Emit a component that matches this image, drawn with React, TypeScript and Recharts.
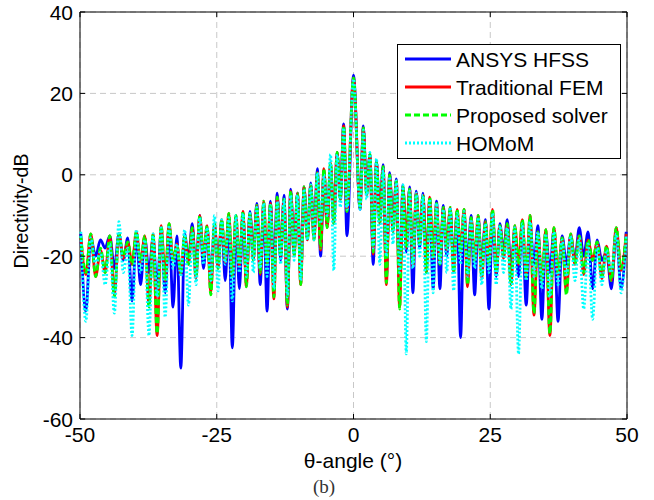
import React from 'react';
import { LineChart, Line, XAxis, YAxis, CartesianGrid, ReferenceArea } from 'recharts';

// theta samples: side-lobe peaks and nulls
const THETA = [
  -49.85, -48.93, -48.03, -47.14, -46.26, -45.4, -44.55, -43.72, -42.89, -42.08, -41.27, -40.48,
  -39.7, -38.92, -38.15, -37.39, -36.64, -35.9, -35.16, -34.43, -33.71, -32.99, -32.28, -31.57,
  -30.87, -30.17, -29.48, -28.79, -28.11, -27.43, -26.76, -26.09, -25.42, -24.76, -24.1, -23.45,
  -22.8, -22.15, -21.5, -20.86, -20.21, -19.58, -18.94, -18.31, -17.68, -17.05, -16.42, -15.8,
  -15.18, -14.56, -13.94, -13.32, -12.7, -12.09, -11.48, -10.86, -10.25, -9.65, -9.04, -8.43,
  -7.82, -7.22, -6.61, -6.01, -5.41, -4.81, -4.2, -3.6, -3.0, -2.4, -1.8, -1.2,
  0,
  1.2, 1.8, 2.4, 3.0, 3.6, 4.2, 4.81, 5.41, 6.01, 6.61, 7.22, 7.82,
  8.43, 9.04, 9.65, 10.25, 10.86, 11.48, 12.09, 12.7, 13.32, 13.94, 14.56, 15.18,
  15.8, 16.42, 17.05, 17.68, 18.31, 18.94, 19.58, 20.21, 20.86, 21.5, 22.15, 22.8,
  23.45, 24.1, 24.76, 25.42, 26.09, 26.76, 27.43, 28.11, 28.79, 29.48, 30.17, 30.87,
  31.57, 32.28, 32.99, 33.71, 34.43, 35.16, 35.9, 36.64, 37.39, 38.15, 38.92, 39.7,
  40.48, 41.27, 42.08, 42.89, 43.72, 44.55, 45.4, 46.26, 47.14, 48.03, 48.93, 49.85,
];

const HFSS = [
  -14.5, -33.5, -15.5, -20.0, -16.0, -18.0, -15.0, -23.0, -14.5, -21.0, -15.5, -31.0,
  -15.0, -27.0, -15.5, -24.0, -15.5, -28.0, -14.0, -29.0, -12.5, -32.5, -15.0, -47.5,
  -14.5, -21.0, -12.0, -24.0, -10.0, -23.0, -13.0, -27.0, -12.5, -22.0, -11.5, -26.0,
  -10.5, -42.5, -11.0, -28.0, -10.0, -26.0, -9.0, -20.0, -7.0, -27.0, -7.5, -33.5,
  -6.5, -24.0, -4.5, -21.0, -5.0, -33.0, -3.5, -19.0, -4.5, -25.0, -3.0, -16.0,
  -2.0, -15.0, 1.5, -20.0, 1.0, -12.5, 2.5, -12.0, 5.5, -6.0, 12.5, -15.0,
  24.5,
  -8.5, 12.0, -4.5, 5.0, -22.0, 3.5, -11.0, 2.5, -25.0, 0.5, -13.0, -1.0,
  -28.0, -2.5, -19.0, -3.0, -29.0, -4.0, -18.0, -4.5, -22.0, -6.0, -28.0, -6.5,
  -28.0, -7.5, -20.0, -8.5, -22.0, -9.0, -40.0, -9.5, -22.0, -10.0, -29.5, -10.5,
  -23.0, -11.0, -33.0, -10.0, -25.0, -12.0, -19.0, -11.0, -24.0, -13.5, -25.0, -12.5,
  -32.0, -12.0, -22.0, -12.5, -35.5, -14.5, -24.0, -13.5, -36.0, -15.0, -22.0, -15.0,
  -21.0, -13.0, -20.0, -14.0, -28.0, -16.0, -21.0, -19.0, -28.0, -14.0, -28.0, -14.0,
];

const FEM = [
  -15.5, -24.5, -14.5, -25.0, -18.5, -24.0, -15.0, -29.5, -14.5, -20.5, -16.5, -22.0,
  -14.0, -21.5, -15.0, -32.0, -14.5, -39.5, -12.5, -26.0, -12.0, -21.0, -17.0, -24.5,
  -15.0, -22.0, -13.0, -25.5, -10.0, -20.0, -12.5, -29.0, -12.0, -23.0, -11.0, -21.5,
  -9.5, -25.0, -10.0, -22.5, -9.0, -27.5, -9.5, -21.0, -7.5, -24.5, -6.5, -22.0,
  -7.0, -30.5, -5.5, -20.0, -6.0, -32.5, -4.0, -20.0, -4.5, -27.0, -3.0, -16.0,
  -2.5, -16.0, 0.5, -18.5, 1.5, -13.0, 3.0, -12.0, 5.5, -6.0, 12.0, -9.0,
  23.8,
  -8.0, 11.5, -5.0, 5.0, -19.5, 3.0, -12.0, 2.0, -27.0, 0.0, -14.0, -1.5,
  -32.5, -3.0, -18.0, -3.5, -22.5, -4.5, -17.0, -5.0, -24.0, -5.5, -20.5, -7.0,
  -22.0, -8.0, -18.5, -8.0, -24.0, -8.5, -19.0, -8.5, -27.5, -10.5, -21.0, -10.0,
  -25.5, -11.5, -22.0, -8.5, -24.0, -12.5, -20.5, -12.0, -27.0, -12.5, -22.0, -11.0,
  -25.0, -10.0, -34.5, -14.0, -26.0, -13.5, -39.5, -13.0, -24.5, -15.5, -29.0, -14.5,
  -22.0, -15.0, -24.5, -16.0, -21.0, -16.5, -25.5, -17.5, -26.0, -13.0, -23.5, -14.5,
];

const PROPOSED = [
  -15.0, -24.0, -14.5, -25.0, -18.0, -24.0, -15.0, -30.0, -14.5, -20.0, -16.5, -22.0,
  -14.0, -21.0, -15.0, -32.5, -14.5, -39.0, -12.5, -26.0, -12.0, -21.0, -17.5, -24.0,
  -15.0, -22.0, -13.0, -25.0, -10.0, -20.0, -12.5, -29.5, -12.0, -23.0, -11.0, -21.0,
  -9.5, -25.0, -10.0, -22.0, -9.0, -27.5, -9.5, -21.0, -7.5, -24.0, -6.5, -22.0,
  -7.0, -30.0, -5.5, -20.0, -6.0, -32.0, -4.0, -20.0, -4.5, -27.0, -3.0, -16.0,
  -2.5, -16.0, 0.5, -18.0, 1.5, -13.0, 3.0, -12.0, 5.5, -6.0, 12.0, -9.0,
  23.8,
  -8.0, 11.5, -5.0, 5.0, -19.0, 3.0, -12.0, 2.0, -26.5, 0.0, -14.0, -1.5,
  -33.0, -3.0, -18.0, -3.5, -22.0, -4.5, -17.0, -5.0, -24.0, -5.5, -20.0, -7.0,
  -22.0, -8.0, -18.0, -8.0, -24.0, -8.5, -19.0, -8.5, -27.0, -10.5, -21.0, -10.0,
  -25.0, -11.5, -22.0, -8.5, -24.0, -12.5, -20.0, -12.0, -27.0, -12.5, -22.0, -11.0,
  -25.0, -10.0, -34.0, -14.0, -26.0, -13.5, -39.0, -13.0, -24.0, -15.5, -29.5, -14.5,
  -22.0, -15.0, -24.0, -16.0, -21.0, -16.5, -25.0, -17.5, -26.0, -13.0, -23.0, -14.5,
];

const HOMOM = [
  -14.0, -36.0, -15.5, -22.0, -19.0, -27.0, -17.0, -34.0, -11.5, -24.0, -18.0, -39.5,
  -13.5, -24.0, -16.0, -39.5, -14.5, -30.0, -13.0, -35.0, -12.5, -23.0, -17.0, -25.0,
  -13.5, -32.0, -14.0, -27.0, -10.5, -22.0, -13.0, -26.0, -10.0, -28.5, -11.0, -22.0,
  -10.5, -31.0, -10.0, -24.0, -9.5, -25.0, -9.5, -24.0, -8.0, -23.0, -7.0, -25.0,
  -7.5, -28.0, -6.5, -22.0, -6.0, -30.0, -5.0, -21.0, -5.0, -26.0, -3.5, -16.0,
  -2.5, -16.0, 0.5, -12.0, 0.0, -10.0, 5.0, -23.5, 5.0, -8.0, 11.5, -8.5,
  23.5,
  -8.5, 11.0, -6.0, 5.5, -18.0, 4.0, -22.0, 1.5, -20.0, -0.5, -17.0, -1.5,
  -24.0, -2.5, -44.0, -4.0, -23.0, -4.5, -20.0, -5.0, -41.0, -6.0, -29.0, -7.0,
  -22.0, -8.5, -24.0, -8.0, -28.5, -9.5, -22.0, -9.0, -25.0, -11.0, -23.0, -10.5,
  -27.0, -12.0, -24.0, -9.5, -27.0, -12.5, -24.0, -13.0, -33.0, -13.0, -44.0, -12.0,
  -26.0, -11.5, -25.0, -14.0, -28.0, -14.5, -30.0, -14.0, -27.0, -16.0, -25.0, -15.0,
  -26.0, -15.5, -33.0, -17.0, -35.5, -17.5, -27.0, -18.5, -24.0, -14.5, -29.0, -15.0,
];

const X_TICKS = [-50, -25, 0, 25, 50];
const Y_TICKS = [-60, -40, -20, 0, 20, 40];

const SERIES = [
  { key: 'hfss', name: 'ANSYS HFSS', color: '#0000ff', dash: undefined },
  { key: 'fem', name: 'Traditional FEM', color: '#ff0000', dash: undefined },
  { key: 'proposed', name: 'Proposed solver', color: '#00ff00', dash: '6 3' },
  { key: 'homom', name: 'HOMoM', color: '#00ffff', dash: '2 2' },
];

const data = THETA.map((theta, i) => ({
  theta,
  hfss: HFSS[i],
  fem: FEM[i],
  proposed: PROPOSED[i],
  homom: HOMOM[i],
}));

const W = 654;
const H = 500;
const PLOT = { left: 80, top: 12, right: 627, bottom: 419 };
const FONT = '"Liberation Sans", Arial, Helvetica, sans-serif';

// matlab style: ticks point inward on all four sides
const XTick = (props: any) => {
  const { x, payload } = props;
  return (
    <g>
      <line x1={x} x2={x} y1={PLOT.bottom} y2={PLOT.bottom - 5} stroke="#000" />
      <line x1={x} x2={x} y1={PLOT.top} y2={PLOT.top + 5} stroke="#000" />
      <text x={x} y={PLOT.bottom + 23} textAnchor="middle" fontSize={21} fontFamily={FONT} fill="#000">
        {payload.value}
      </text>
    </g>
  );
};

const YTick = (props: any) => {
  const { y, payload } = props;
  return (
    <g>
      <line x1={PLOT.left} x2={PLOT.left + 5} y1={y} y2={y} stroke="#000" />
      <line x1={PLOT.right} x2={PLOT.right - 5} y1={y} y2={y} stroke="#000" />
      <text x={PLOT.left - 7} y={y + 7.5} textAnchor="end" fontSize={21} fontFamily={FONT} fill="#000">
        {payload.value}
      </text>
    </g>
  );
};

export default function App() {
  return (
    <div style={{ position: 'absolute', left: 0, top: 0, width: W, height: H, background: '#fff' }}>
      <LineChart
        width={W}
        height={H}
        data={data}
        margin={{ top: PLOT.top, right: W - PLOT.right, bottom: 51, left: 0 }}
      >
        <CartesianGrid stroke="#c8c8c8" strokeDasharray="6 4" />
        <XAxis
          dataKey="theta"
          type="number"
          domain={[-50, 50]}
          ticks={X_TICKS}
          interval={0}
          height={30}
          axisLine={false}
          tickLine={false}
          tick={XTick}
        />
        <YAxis
          type="number"
          domain={[-60, 40]}
          ticks={Y_TICKS}
          interval={0}
          width={80}
          axisLine={false}
          tickLine={false}
          tick={YTick}
        />
        {SERIES.map((s) => (
          <Line
            key={s.key}
            dataKey={s.key}
            name={s.name}
            type="monotone"
            stroke={s.color}
            strokeWidth={2.8}
            strokeDasharray={s.dash}
            dot={false}
            activeDot={false}
            isAnimationActive={false}
          />
        ))}
        <ReferenceArea x1={-50} x2={50} y1={-60} y2={40} fill="none" stroke="#000" strokeWidth={1} />
      </LineChart>

      <svg
        width={W}
        height={H}
        style={{ position: 'absolute', left: 0, top: 0, pointerEvents: 'none' }}
      >
        {/* legend */}
        <rect x={397.5} y={44.5} width={223} height={114} fill="#fff" stroke="#000" strokeWidth={1} />
        {SERIES.map((s, i) => {
          const cy = 59 + i * 28;
          return (
            <g key={s.key}>
              <line x1={405} x2={451} y1={cy} y2={cy} stroke={s.color} strokeWidth={3} strokeDasharray={s.dash} />
              <text x={456} y={cy + 7.5} fontSize={21} fontFamily={FONT} fill="#000">
                {s.name}
              </text>
            </g>
          );
        })}

        {/* axis labels */}
        <text x={353} y={468} textAnchor="middle" fontSize={21} fontFamily={FONT} fill="#000">
          θ-angle (°)
        </text>
        <text
          transform="translate(28, 211) rotate(-90)"
          textAnchor="middle"
          fontSize={19.5}
          fontFamily={FONT}
          fill="#000"
        >
          Directivity-dB
        </text>
        <text
          x={324}
          y={493}
          textAnchor="middle"
          fontSize={19}
          fontFamily='"Liberation Serif", "Times New Roman", serif'
          fill="#333"
        >
          (b)
        </text>
      </svg>
    </div>
  );
}
